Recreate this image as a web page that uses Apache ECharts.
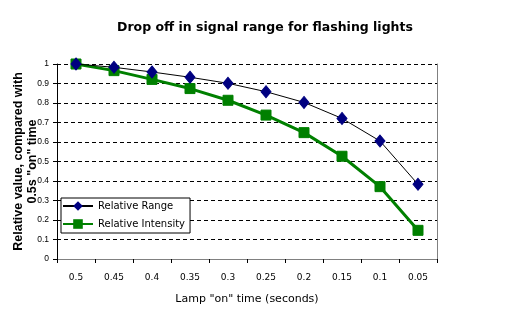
<!DOCTYPE html>
<html><head><meta charset="utf-8">
<script src="https://cdn.jsdelivr.net/npm/echarts@6/dist/echarts.min.js"></script>
<style>html,body{margin:0;padding:0;background:#fff}#c{width:531px;height:321px}</style>
</head><body><div id="c"></div>
<script>
const categories = ['0.5','0.45','0.4','0.35','0.3','0.25','0.2','0.15','0.1','0.05'];
const relativeRange = [1.0, 0.983, 0.959, 0.932, 0.901, 0.858, 0.803, 0.721, 0.605, 0.383];
const relativeIntensity = [1.0, 0.966, 0.921, 0.874, 0.814, 0.738, 0.648, 0.527, 0.371, 0.147];
const titleText = 'Drop off in signal range for flashing lights';
const xName = 'Lamp "on" time (seconds)';
const yName = 'Relative value, compared with\n0.5s "on" time';

const chart = echarts.init(document.getElementById('c'), null, {renderer:'canvas'});
chart.setOption({
  animation:false,
  backgroundColor:'#fff',
  title:{text:titleText,left:260,top:16,textAlign:'center',
    textStyle:{fontFamily:'DejaVu Sans',fontWeight:'bold',fontSize:12.5,color:'#000'}},
  grid:{left:57,right:94,top:64,bottom:62,containLabel:false,outerBoundsMode:'none'},
  legend:{
    left:61,top:198,orient:'vertical',
    backgroundColor:'#fff',borderColor:'#000',borderWidth:1,borderRadius:0,
    padding:[3,5,4,1],itemWidth:30,itemHeight:12,itemGap:8,
    textStyle:{fontFamily:'DejaVu Sans',fontSize:10,color:'#000'},
    data:['Relative Range','Relative Intensity']
  },
  xAxis:[{
    type:'category',data:categories,boundaryGap:true,
    name:xName,nameLocation:'middle',nameGap:35,nameMoveOverlap:false,
    nameTextStyle:{fontFamily:'DejaVu Sans',fontSize:11,color:'#000'},
    axisLine:{lineStyle:{color:'#000',width:1}},
    axisTick:{show:true,inside:false,length:4,alignWithLabel:false,lineStyle:{color:'#000'}},
    axisLabel:{margin:14,fontFamily:'DejaVu Sans',fontSize:9,color:'#000',interval:0},
    splitLine:{show:false}
  },{
    type:'category',data:categories,position:'top',
    axisLine:{lineStyle:{color:'#808080',width:1}},
    axisTick:{show:false},axisLabel:{show:false},splitLine:{show:false}
  }],
  yAxis:[{
    type:'value',min:0,max:1,interval:0.1,
    name:yName,nameLocation:'middle',nameRotate:90,nameGap:17,nameMoveOverlap:false,
    nameTextStyle:{fontFamily:'Liberation Sans',fontWeight:'bold',fontSize:12.5,color:'#000',lineHeight:14},
    axisLine:{show:true,lineStyle:{color:'#000',width:1}},
    axisTick:{show:true,inside:false,length:4,lineStyle:{color:'#000'}},
    axisLabel:{margin:8,fontFamily:'Liberation Sans',fontSize:8.5,color:'#000'},
    splitLine:{show:true,lineStyle:{color:'#000',type:[4,3],width:1}}
  },{
    type:'value',min:0,max:1,interval:0.1,position:'right',
    axisLine:{show:true,lineStyle:{color:'#808080',width:1}},
    axisTick:{show:false},axisLabel:{show:false},splitLine:{show:false}
  }],
  series:[{
    name:'Relative Range',type:'line',data:relativeRange,
    symbol:'diamond',symbolSize:[10,12],
    itemStyle:{color:'#000080',borderColor:'#000080'},
    lineStyle:{color:'#000',width:1},z:3
  },{
    name:'Relative Intensity',type:'line',data:relativeIntensity,
    symbol:'rect',symbolSize:10,
    itemStyle:{color:'#008000',borderColor:'#008000'},
    lineStyle:{color:'#008000',width:3},z:2
  }]
});
</script></body></html>
